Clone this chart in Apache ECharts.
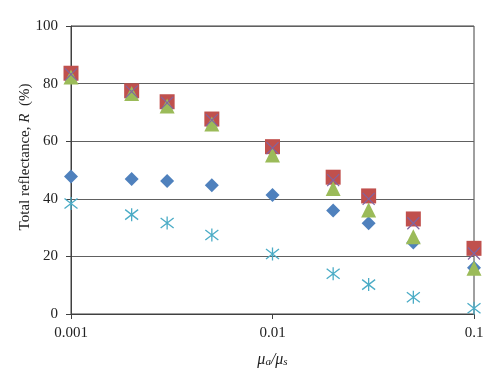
<!DOCTYPE html>
<html>
<head>
<meta charset="utf-8">
<script src="https://cdn.jsdelivr.net/npm/echarts@6/dist/echarts.min.js"></script>
<style>html,body{margin:0;padding:0;background:#fff}#c{width:500px;height:386px}</style>
</head>
<body>
<div id="c"></div>
<script>
const ratios = [0.001, 0.002, 0.003, 0.005, 0.01, 0.02, 0.03, 0.05, 0.1];
const seriesBlue   = [47.7, 46.9, 46.2, 44.7, 41.3, 35.9, 31.5, 24.8, 16.1];
const seriesRed    = [83.6, 77.5, 73.7, 67.7, 58.1, 47.5, 41.0, 33.0, 22.8];
const seriesGreen  = [82.3, 76.6, 72.2, 66.0, 55.2, 43.6, 36.1, 26.8, 15.9];
const seriesPurple = [83.2, 77.2, 73.3, 67.3, 57.6, 46.5, 40.0, 31.5, 21.0];
const seriesCyan   = [38.4, 34.5, 31.6, 27.4, 20.8, 14.0, 10.2, 5.8, 2.0];
const yTicks = [0, 20, 40, 60, 80, 100];

const pair = arr => ratios.map((x, i) => [x, arr[i]]);
const FONT = '"Liberation Serif", "DejaVu Serif", serif';
const star = 'path://M-1,-1L1,1M-1,1L1,-1M0,-1.3L0,1.3';
const cross = 'path://M-1,-1L1,1M-1,1L1,-1';

const chart = echarts.init(document.getElementById('c'));
chart.setOption({
  animation: false,
  grid: { left: 71, right: 26, top: 26, bottom: 72, show: true, borderColor: '#404040', borderWidth: 1 },
  xAxis: {
    type: 'log', logBase: 10, min: 0.001, max: 0.1,
    axisLine: { lineStyle: { color: '#404040', width: 1 } },
    axisTick: { show: true, length: 5, lineStyle: { color: '#404040' } },
    minorTick: { show: false },
    splitLine: { show: false },
    axisLabel: { fontFamily: FONT, fontSize: 15, color: '#222', margin: 12,
      formatter: v => String(Number(v.toPrecision(3))) },
    name: '{i|μ}{s|a}{n|/}{i|μ}{s|s}',
    nameLocation: 'middle', nameGap: 37, nameMoveOverlap: false,
    nameTextStyle: {
      rich: {
        i: { fontFamily: FONT, fontStyle: 'italic', fontSize: 16, color: '#222' },
        s: { fontFamily: FONT, fontStyle: 'italic', fontSize: 11, color: '#222', verticalAlign: 'bottom', padding: [6, 0, 0, 0] },
        n: { fontFamily: FONT, fontStyle: 'italic', fontSize: 16, color: '#222' }
      }
    }
  },
  yAxis: {
    type: 'value', min: 0, max: 100, interval: 20,
    axisLine: { show: true, lineStyle: { color: '#404040', width: 1 } },
    axisTick: { show: true, length: 5, lineStyle: { color: '#404040' } },
    splitLine: { show: true, lineStyle: { color: '#606060', width: 1 } },
    axisLabel: { fontFamily: FONT, fontSize: 15, color: '#222', margin: 13,
      formatter: v => yTicks.includes(v) ? String(v) : '' },
    name: '{t|Total reflectance, }{i|R}{t|  (%)}',
    nameLocation: 'middle', nameGap: 38, nameMoveOverlap: false,
    nameTextStyle: {
      padding: [0, 0, 0, 26],
      rich: {
        t: { fontFamily: FONT, fontSize: 15, color: '#222' },
        i: { fontFamily: FONT, fontStyle: 'italic', fontSize: 15, color: '#222' }
      }
    }
  },
  series: [
    { type: 'scatter', data: pair(seriesBlue), symbol: 'diamond', symbolSize: 14,
      itemStyle: { color: '#4F81BD', opacity: 1 } },
    { type: 'scatter', data: pair(seriesRed), symbol: 'rect', symbolSize: 15,
      itemStyle: { color: '#C0504D', opacity: 1 } },
    { type: 'scatter', data: pair(seriesGreen), symbol: 'triangle', symbolSize: 15,
      itemStyle: { color: '#9BBB59', opacity: 1 } },
    { type: 'scatter', data: pair(seriesPurple), symbol: cross, symbolSize: 12,
      itemStyle: { color: 'rgba(0,0,0,0)', borderColor: '#8064A2', borderWidth: 1.2, opacity: 1 } },
    { type: 'scatter', data: pair(seriesCyan), symbol: star, symbolSize: 13,
      itemStyle: { color: 'rgba(0,0,0,0)', borderColor: '#4BACC6', borderWidth: 1.3, opacity: 1 } }
  ]
});
</script>
</body>
</html>
